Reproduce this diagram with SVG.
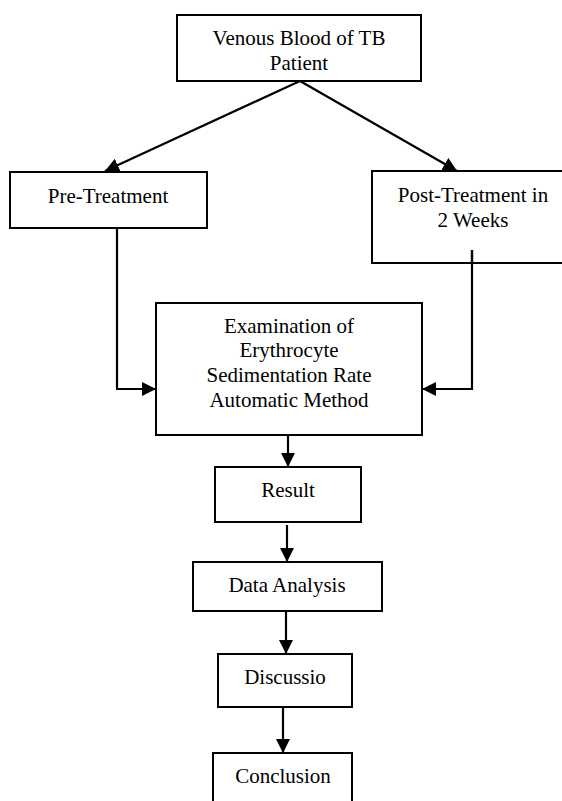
<svg xmlns="http://www.w3.org/2000/svg" width="562" height="801" viewBox="0 0 562 801">
<defs>
<marker id="ah" markerUnits="userSpaceOnUse" markerWidth="14" markerHeight="14" viewBox="0 0 14 14" refX="14" refY="7" orient="auto">
<path d="M0,0 L14,7 L0,14 Z" fill="#000"/>
</marker>
</defs>
<style>
.box{fill:#fff;stroke:#000;stroke-width:2}
.open{fill:none;stroke:#000;stroke-width:2}
.lbl{font-family:"Liberation Serif","Times New Roman",serif;font-size:21px;fill:#000;text-anchor:middle}
.con{fill:none;stroke:#000;stroke-width:2.2}
</style>
<rect width="562" height="801" fill="#fff"/>
<g id="connectors">
<line class="con" x1="300" y1="81" x2="105" y2="171" marker-end="url(#ah)"/>
<line class="con" x1="300" y1="81" x2="457" y2="171" marker-end="url(#ah)"/>
<polyline class="con" points="117,228 117,389 156,389" marker-end="url(#ah)"/>
<polyline class="con" points="472,250 472,389 422,389" marker-end="url(#ah)"/>
<line class="con" x1="288" y1="435" x2="288" y2="467" marker-end="url(#ah)"/>
<line class="con" x1="287" y1="525" x2="287" y2="562" marker-end="url(#ah)"/>
<line class="con" x1="286" y1="611" x2="286" y2="654" marker-end="url(#ah)"/>
<line class="con" x1="283" y1="707" x2="283" y2="753" marker-end="url(#ah)"/>
</g>
<g id="venous">
<rect class="box" x="177" y="15" width="244" height="66"/>
<text class="lbl" x="299" y="45">Venous Blood of TB</text>
<text class="lbl" x="299" y="70">Patient</text>
</g>
<g id="pre">
<rect class="box" x="10" y="172" width="197" height="56"/>
<text class="lbl" x="108" y="203">Pre-Treatment</text>
</g>
<g id="post">
<path class="open" d="M563,171 H372 V263 H563"/>
<text class="lbl" x="473" y="202">Post-Treatment in</text>
<text class="lbl" x="473" y="227">2 Weeks</text>
</g>
<line class="con" x1="472" y1="250" x2="472" y2="264"/>
<g id="exam">
<rect class="box" x="156" y="303" width="266" height="132"/>
<text class="lbl" x="289" y="333">Examination of</text>
<text class="lbl" x="289" y="357">Erythrocyte</text>
<text class="lbl" x="289" y="382">Sedimentation Rate</text>
<text class="lbl" x="289" y="407">Automatic Method</text>
</g>
<g id="result">
<rect class="box" x="215" y="467" width="146" height="55"/>
<text class="lbl" x="288" y="497">Result</text>
</g>
<g id="data">
<rect class="box" x="193" y="562" width="189" height="49"/>
<text class="lbl" x="287" y="592">Data Analysis</text>
</g>
<g id="discussio">
<rect class="box" x="218" y="654" width="134" height="53"/>
<text class="lbl" x="285" y="684">Discussio</text>
</g>
<g id="conclusion">
<path class="open" d="M213,802 V753 H352 V802"/>
<text class="lbl" x="283" y="783">Conclusion</text>
</g>
</svg>
